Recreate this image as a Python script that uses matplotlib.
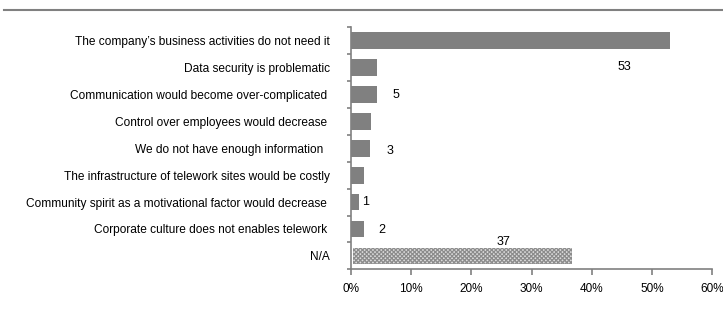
import matplotlib
matplotlib.use("Agg")
import matplotlib.pyplot as plt
from matplotlib.ticker import PercentFormatter, FixedLocator
import numpy as np

plt.rcParams['font.family'] = ['Liberation Sans', 'DejaVu Sans']
plt.rcParams['hatch.linewidth'] = 0.9

categories = [
    "The company\u2019s business activities do not need it",
    "Data security is problematic",
    "Communication would become over-complicated ",
    "Control over employees would decrease ",
    "We do not have enough information  ",
    "The infrastructure of telework sites would be costly",
    "Community spirit as a motivational factor would decrease ",
    "Corporate culture does not enables telework ",
    "N/A",
]
values = [53.1, 4.4, 4.4, 3.4, 3.2, 2.2, 1.3, 2.2, 36.8]
label_text = ["53", "", "5", "", "3", "", "1", "2", "37"]
# label offsets (x in %, y in category units) as in the original layout
label_dx = [-7.6, 0, 3.0, 0, 3.2, 0, 1.2, 3.0, -11.5]
label_dy = [0.98, 0, 0.0, 0, 0.1, 0, 0.0, 0.05, -0.5]

fig = plt.figure(figsize=(7.23, 3.12), dpi=100)
# top border line
fig.add_artist(plt.Line2D([4/723, 1.0], [1-10/312, 1-10/312], color='#808080', lw=1.5))

ax = fig.add_axes([351/723, 1-269.3/312, (712-351)/723, (269.3-27.3)/312])
n = len(categories)
y = np.arange(n)
colors = ['#808080'] * (n - 1) + ['#dcdcdc']
bars = ax.barh(y, values, height=0.62, color=colors, edgecolor='none')
na = bars[-1]
na.set_hatch('xxxxxxxx')
na.set_edgecolor('#8c8c8c')
na.set_linewidth(0)
na.set_x(0.35)
na.set_width(values[-1] - 0.35)

for i, t in enumerate(label_text):
    if t:
        ax.text(values[i] + label_dx[i], y[i] + label_dy[i], t,
                ha='center', va='center', fontsize=9, color='black')

ax.set_xlim(0, 60)
ax.set_ylim(n - 0.5, -0.5)
ax.xaxis.set_major_locator(FixedLocator([0, 10, 20, 30, 40, 50, 60]))
ax.xaxis.set_major_formatter(PercentFormatter(decimals=0))

ax.set_yticks(y)
ax.set_yticklabels(categories, fontsize=8.6)
ax.yaxis.set_minor_locator(FixedLocator(np.arange(-0.5, n, 1.0)))
ax.tick_params(axis='y', which='major', length=0, pad=15)
ax.tick_params(axis='y', which='minor', length=3, width=1.2, color='#808080')
ax.tick_params(axis='x', length=4, width=1.2, color='#808080', labelsize=8.5, pad=6)

for s in ['top', 'right']:
    ax.spines[s].set_visible(False)
for s in ['left', 'bottom']:
    ax.spines[s].set_color('#808080')
    ax.spines[s].set_linewidth(1.2)

fig.savefig('out.png', dpi=100)
